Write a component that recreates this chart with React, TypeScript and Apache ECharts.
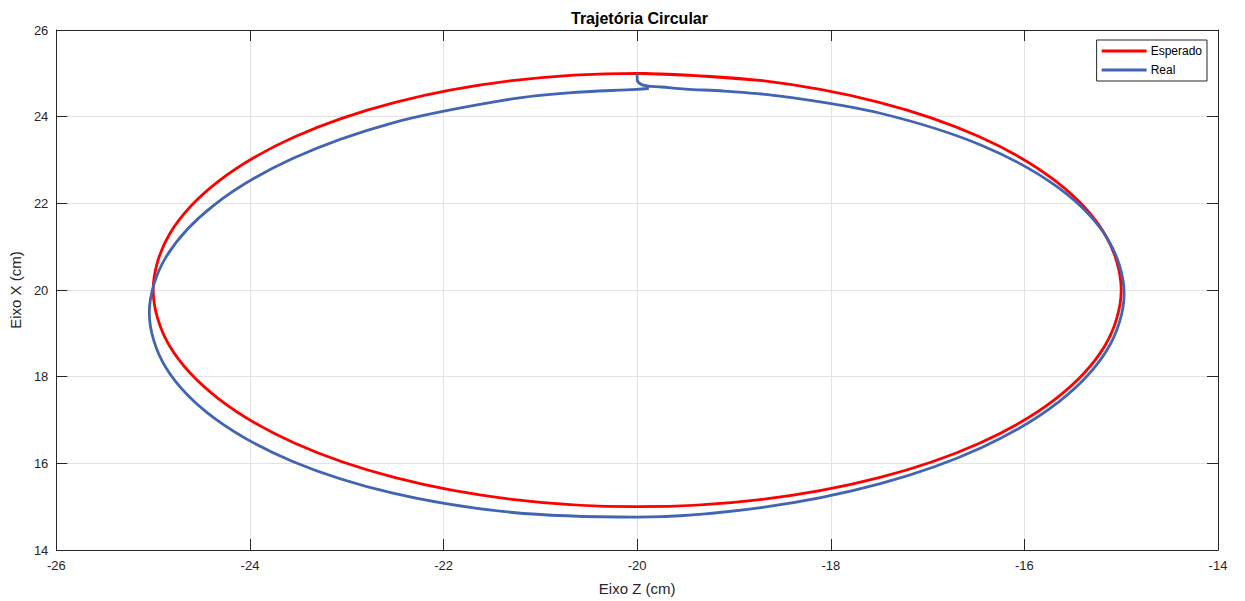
import React, { useEffect, useRef } from "react";
import * as echarts from "echarts";

// Tick values
const xTicks = [-26, -24, -22, -20, -18, -16, -14];
const yTicks = [14, 16, 18, 20, 22, 24, 26];

// Expected (Esperado) trajectory: [Z, X] in cm
const esperado: [number, number][] = [
  [-20.0, 25.0], [-18.706, 24.83], [-17.5, 24.33], [-16.464, 23.536],
  [-15.67, 22.5], [-15.17, 21.294], [-15.0, 20.0], [-15.17, 18.706],
  [-15.67, 17.5], [-16.464, 16.464], [-17.5, 15.67], [-18.706, 15.17],
  [-20.0, 15.0], [-21.294, 15.17], [-22.5, 15.67], [-23.536, 16.464],
  [-24.33, 17.5], [-24.83, 18.706], [-25.0, 20.0], [-24.83, 21.294],
  [-24.33, 22.5], [-23.536, 23.536], [-22.5, 24.33], [-21.294, 24.83],
  [-20.0, 25.0], [-18.706, 24.83],
];

// Measured (Real) trajectory: [Z, X] in cm
const real: [number, number][] = [
  [-20.0, 25.0], [-20.0, 24.86], [-19.97, 24.76], [-19.9, 24.71],
  [-19.75, 24.685], [-19.5, 24.635], [-19.1, 24.59], [-18.5, 24.469],
  [-17.488, 24.079], [-16.445, 23.341], [-15.645, 22.354], [-15.142, 21.185],
  [-14.97, 19.915], [-15.142, 18.631], [-15.645, 17.418], [-16.445, 16.361],
  [-17.488, 15.531], [-18.702, 14.985], [-20.005, 14.76], [-21.308, 14.871],
  [-22.523, 15.311], [-23.565, 16.049], [-24.365, 17.036], [-24.868, 18.205],
  [-25.04, 19.475], [-24.868, 20.759], [-24.365, 21.972], [-23.565, 23.029],
  [-22.523, 23.859], [-21.308, 24.405], [-20.706, 24.551], [-20.005, 24.63],
  [-19.88, 24.65],
];

const AX = "#262626";
const GRID = "#e3e3e3";
const FONT = "Liberation Sans, Arial, Helvetica, sans-serif";

export default function App() {
  const ref = useRef<HTMLDivElement>(null);
  useEffect(() => {
    if (!ref.current) return;
    const chart = echarts.init(ref.current, null, { renderer: "svg" });
    const tickCommon = { inside: true, length: 11, lineStyle: { color: AX, width: 1 } };
    chart.setOption({
      animation: false,
      backgroundColor: "#ffffff",
      textStyle: { fontFamily: FONT },
      title: {
        text: "Trajetória Circular",
        left: 566,
        top: 5,
        textStyle: { fontSize: 16, fontWeight: "bold", color: "#000", fontFamily: FONT },
      },
      legend: {
        orient: "vertical",
        right: 38,
        top: 40,
        backgroundColor: "#fff",
        borderColor: AX,
        borderWidth: 1,
        borderRadius: 0,
        padding: [5, 5, 5, 5],
        itemGap: 7,
        itemWidth: 45,
        itemHeight: 3,
        textStyle: { fontSize: 12, color: "#000", fontFamily: FONT, padding: [0, 0, 0, -1] },
        data: [
          { name: "Esperado", icon: "rect" },
          { name: "Real", icon: "rect" },
        ],
      },
      grid: { left: 55, right: 27, top: 30, bottom: 51, containLabel: false },
      xAxis: [
        {
          type: "value",
          min: xTicks[0],
          max: xTicks[xTicks.length - 1],
          interval: 2,
          name: "Eixo Z (cm)",
          nameLocation: "middle",
          nameGap: 31,
          nameTextStyle: { fontSize: 15, color: AX, fontFamily: FONT },
          axisLine: { show: true, onZero: false, lineStyle: { color: AX, width: 1 } },
          axisTick: tickCommon,
          axisLabel: { fontSize: 13, color: AX, margin: 9, fontFamily: FONT },
          splitLine: { show: true, lineStyle: { color: GRID, width: 1 } },
        },
        {
          type: "value",
          position: "top",
          min: xTicks[0],
          max: xTicks[xTicks.length - 1],
          interval: 2,
          axisLine: { show: true, onZero: false, lineStyle: { color: AX, width: 1 } },
          axisTick: tickCommon,
          axisLabel: { show: false },
          splitLine: { show: false },
        },
      ],
      yAxis: [
        {
          type: "value",
          min: yTicks[0],
          max: yTicks[yTicks.length - 1],
          interval: 2,
          name: "Eixo X (cm)",
          nameLocation: "middle",
          nameGap: 30,
          nameTextStyle: { fontSize: 15, color: AX, fontFamily: FONT },
          axisLine: { show: true, onZero: false, lineStyle: { color: AX, width: 1 } },
          axisTick: tickCommon,
          axisLabel: { fontSize: 13, color: AX, margin: 8, fontFamily: FONT },
          splitLine: { show: true, lineStyle: { color: GRID, width: 1 } },
        },
        {
          type: "value",
          position: "right",
          min: yTicks[0],
          max: yTicks[yTicks.length - 1],
          interval: 2,
          axisLine: { show: true, onZero: false, lineStyle: { color: AX, width: 1 } },
          axisTick: tickCommon,
          axisLabel: { show: false },
          splitLine: { show: false },
        },
      ],
      series: [
        {
          name: "Esperado",
          type: "line",
          xAxisIndex: 0,
          yAxisIndex: 0,
          data: esperado,
          showSymbol: false,
          smooth: 0.33,
          color: "#ff0000",
          lineStyle: { color: "#ff0000", width: 2.8 },
        },
        {
          name: "Real",
          type: "line",
          xAxisIndex: 0,
          yAxisIndex: 0,
          data: real,
          showSymbol: false,
          smooth: 0.33,
          color: "#4165b3",
          lineStyle: { color: "#4165b3", width: 2.8 },
        },
      ],
    });
    return () => chart.dispose();
  }, []);
  return (
    <div
      ref={ref}
      style={{ position: "fixed", left: 0, top: 0, width: 1245, height: 601 }}
    />
  );
}
